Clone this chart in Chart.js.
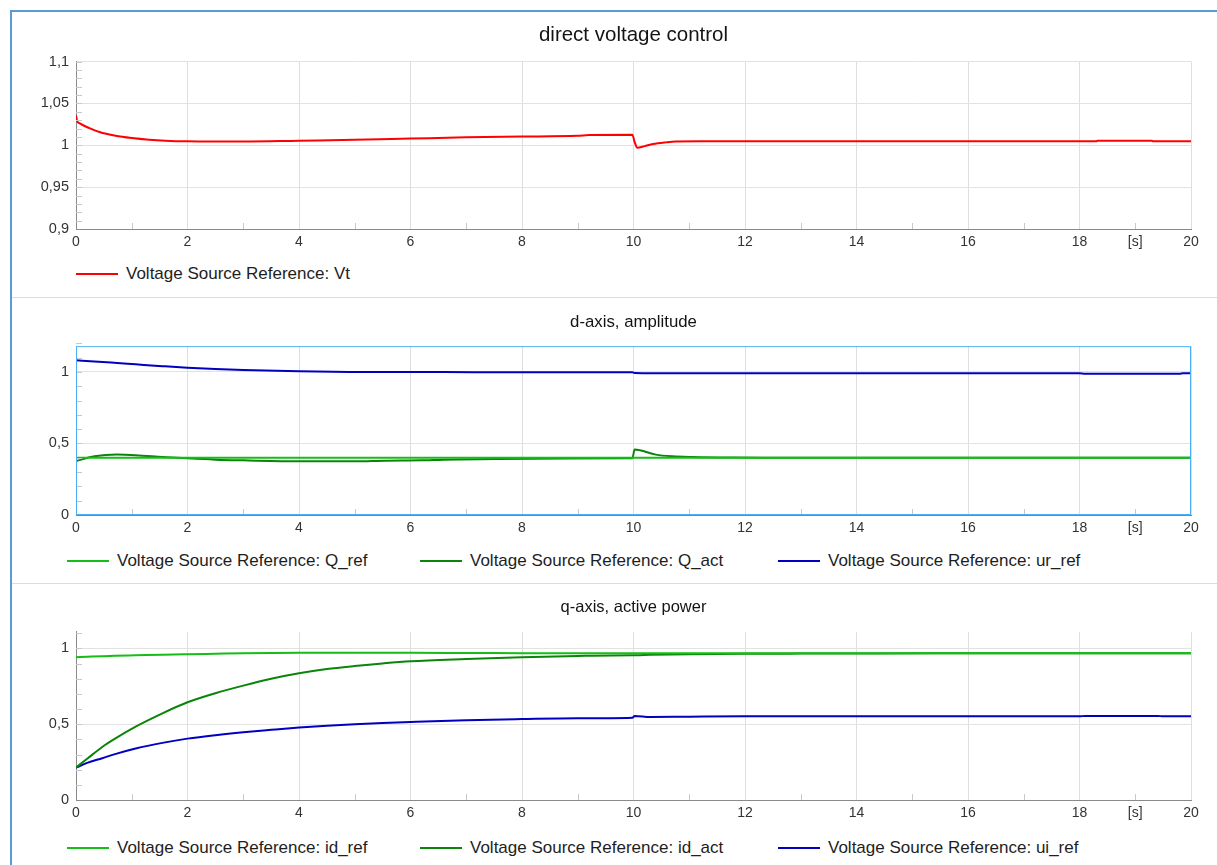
<!DOCTYPE html>
<html>
<head>
<meta charset="utf-8">
<title>direct voltage control</title>
<script src="https://cdn.jsdelivr.net/npm/chart.js@4.4.0/dist/chart.umd.min.js"></script>
<style>
  body { margin: 0; width: 1217px; height: 865px; background: #fff; position: relative; overflow: hidden;
         font-family: "Liberation Sans", Arial, sans-serif; }
  .frame { position: absolute; left: 10px; top: 10px; right: 0; bottom: 0;
           border-left: 2px solid #5b9bd5; border-top: 2px solid #5b9bd5; }
  .sep { position: absolute; left: 12px; right: 0; height: 1px; background: #dcdcdc; }
  .box { position: absolute; left: 12px; width: 1205px; }
  .legend { position: absolute; left: 0; width: 1217px; height: 20px; font-size: 17px; color: #1e1e1e; }
  .item { position: absolute; top: 0; height: 20px; display: flex; align-items: center; white-space: nowrap; }
  .item i { display: inline-block; width: 42px; height: 2px; margin-right: 8px; }
</style>
</head>
<body>
<div class="frame"></div>
<div class="sep" style="top:297px"></div>
<div class="sep" style="top:583px"></div>

<div class="box" style="top:12px;height:243px"><canvas id="c1"></canvas></div>
<div class="legend" id="l1" style="top:264px"></div>

<div class="box" style="top:298px;height:243px"><canvas id="c2"></canvas></div>
<div class="legend" id="l2" style="top:551px"></div>

<div class="box" style="top:584px;height:242px"><canvas id="c3"></canvas></div>
<div class="legend" id="l3" style="top:838px"></div>

<script>
// --- data (time in s) ---
const t1 = [0, 0.02, 0.06, 0.24, 0.42, 0.71, 1.0, 1.31, 1.6, 2.0, 2.5, 3.0, 4.0, 5.0, 6.0, 7.0, 8.0, 9.0, 9.2, 9.98, 10.02, 10.07, 10.2, 10.35, 10.58, 10.76, 11.2, 12, 14, 16, 18.3, 18.32, 19.3, 19.32, 20];
const vt = [1.036, 1.029, 1.0264, 1.0205, 1.0158, 1.0114, 1.0087, 1.0067, 1.0055, 1.0047, 1.0045, 1.0045, 1.0055, 1.0065, 1.008, 1.0095, 1.0105, 1.0113, 1.0124, 1.0125, 1.004, 0.997, 0.999, 1.0015, 1.0035, 1.0045, 1.0047, 1.0047, 1.0047, 1.0047, 1.0047, 1.0055, 1.0055, 1.0047, 1.0047];

const t2 = [0, 0.33, 0.74, 1.07, 1.55, 2, 2.5, 3, 4, 5, 5.55, 6.2, 6.6, 7.6, 8.8, 9.98, 10.02, 10.4, 10.7, 11.06, 11.8, 12.5, 14, 16, 18, 18.1, 19.8, 19.85, 20];
const qRef = [0.4, 0.4, 0.4, 0.4, 0.4, 0.4, 0.4, 0.4, 0.4, 0.4, 0.4, 0.4, 0.4, 0.4, 0.4, 0.4, 0.4, 0.4, 0.4, 0.4, 0.4, 0.4, 0.4, 0.4, 0.4, 0.4, 0.4, 0.4, 0.4];
const qAct = [0.377, 0.41, 0.422, 0.418, 0.406, 0.396, 0.387, 0.382, 0.375, 0.375, 0.38, 0.382, 0.387, 0.392, 0.394, 0.396, 0.458, 0.422, 0.41, 0.405, 0.401, 0.4, 0.4, 0.4, 0.4, 0.4, 0.4, 0.4, 0.4];
const urRef = [1.081, 1.073, 1.062, 1.053, 1.04, 1.029, 1.02, 1.013, 1.004, 1.0, 0.999, 0.999, 0.999, 0.998, 0.998, 0.998, 0.993, 0.991, 0.99, 0.99, 0.99, 0.99, 0.99, 0.99, 0.99, 0.987, 0.987, 0.99, 0.99];

const t3 = [0, 0.2, 0.47, 0.7, 1.07, 1.55, 2, 2.5, 3, 3.5, 4, 4.5, 5, 5.5, 6, 7, 8, 9, 9.98, 10.02, 10.3, 11, 12, 13, 14, 15.4, 16, 18, 18.1, 19.4, 19.5, 20];
const idRef = [0.942, 0.945, 0.949, 0.952, 0.955, 0.959, 0.962, 0.965, 0.968, 0.97, 0.971, 0.971, 0.971, 0.971, 0.971, 0.97, 0.969, 0.968, 0.968, 0.968, 0.968, 0.968, 0.968, 0.968, 0.968, 0.968, 0.968, 0.968, 0.968, 0.968, 0.968, 0.968];
const idAct = [0.214, 0.272, 0.35, 0.405, 0.484, 0.572, 0.645, 0.705, 0.755, 0.8, 0.836, 0.864, 0.884, 0.901, 0.915, 0.93, 0.942, 0.951, 0.956, 0.956, 0.958, 0.962, 0.965, 0.966, 0.967, 0.968, 0.968, 0.968, 0.968, 0.968, 0.968, 0.968];
const uiRef = [0.214, 0.245, 0.276, 0.303, 0.34, 0.377, 0.405, 0.428, 0.447, 0.463, 0.478, 0.49, 0.5, 0.508, 0.515, 0.527, 0.534, 0.539, 0.543, 0.555, 0.548, 0.55, 0.552, 0.552, 0.552, 0.552, 0.552, 0.552, 0.555, 0.555, 0.552, 0.552];

const xTicks = { min: 0, max: 20, unitTick: 19, unitLabel: '[s]' };

const RED = '#ff0000', LGREEN = '#14be14', DGREEN = '#0a850a', BLUE = '#0000c0';
const FONT = '"Liberation Sans", Arial, sans-serif';

// small ticks between the labelled ones, and a box round the plot if asked
const minorTicks = {
  id: 'minorTicks',
  afterDraw(chart, args, opts) {
    const { ctx, chartArea: a, scales: { x, y } } = chart;
    ctx.save();
    ctx.lineWidth = 1;
    ctx.strokeStyle = opts.color || '#c8c8c8';
    ctx.beginPath();
    for (let v = 1; v < xTicks.max; v += 2) {
      const px = Math.round(x.getPixelForValue(v)) + 0.5;
      ctx.moveTo(px, a.bottom);
      ctx.lineTo(px, a.bottom - 6);
    }
    const n = Math.round((y.max - y.min) / opts.yStep);
    for (let i = 1; i <= n; i++) {
      const py = Math.round(y.getPixelForValue(y.min + i * opts.yStep)) + 0.5;
      ctx.moveTo(a.left, py);
      ctx.lineTo(a.left + 6, py);
    }
    ctx.stroke();
    if (opts.box) {
      ctx.strokeStyle = opts.box;
      ctx.strokeRect(a.left + 0.5, a.top + 0.5, a.width - 1, a.height - 1);
    }
    ctx.restore();
  }
};

function fmt(v) {
  return String(Math.round(v * 1000) / 1000).replace('.', ',');
}

function line(label, data, color) {
  return {
    label: label, data: data, borderColor: color, backgroundColor: color,
    borderWidth: 2, pointRadius: 0, fill: false, cubicInterpolationMode: 'monotone'
  };
}

function makeChart(id, title, titleSize, titlePad, labels, datasets, y, axisColor, box) {
  return new Chart(document.getElementById(id), {
    type: 'line',
    data: { labels: labels, datasets: datasets },
    plugins: [minorTicks],
    options: {
      responsive: true,
      maintainAspectRatio: false,
      animation: false,
      layout: { padding: { left: 0, right: 26, top: 0, bottom: 0 } },
      plugins: {
        legend: { display: false },
        tooltip: { enabled: false },
        title: {
          display: true, text: title, color: '#141414', fullSize: false,  // centred over the plot
          font: { family: FONT, size: titleSize, weight: 'normal' },
          padding: titlePad
        },
        minorTicks: { yStep: y.minor, box: box }
      },
      scales: {
        x: {
          type: 'linear', min: xTicks.min, max: xTicks.max,
          afterFit(s) { s.height = 26; },
          border: { color: axisColor, width: 1 },
          grid: {
            drawTicks: false,
            color: c => (c.tick && c.tick.value % 2 === 0) ? '#dedede' : 'rgba(0,0,0,0)'
          },
          ticks: {
            stepSize: 1, autoSkip: false, maxRotation: 0, padding: 5,
            color: '#333', font: { family: FONT, size: 14 },
            callback: v => v === xTicks.unitTick ? xTicks.unitLabel : (v % 2 === 0 ? String(v) : '')
          }
        },
        y: {
          min: y.min, max: y.max,
          afterFit(s) { s.width = 64; },
          afterBuildTicks(s) {
            s.ticks = s.ticks.filter(t => Math.abs(t.value / y.step - Math.round(t.value / y.step)) < 1e-6);
          },
          border: { color: axisColor, width: 1 },
          grid: { drawTicks: false, color: '#e2e2e2' },
          ticks: {
            stepSize: y.step, padding: 7,
            color: '#333', font: { family: FONT, size: 14.5 },
            callback: v => fmt(v)
          }
        }
      }
    }
  });
}

function htmlLegend(chart, boxId, starts) {
  const el = document.getElementById(boxId);
  chart.data.datasets.forEach((ds, i) => {
    const item = document.createElement('div');
    item.className = 'item';
    item.style.left = starts[i] + 'px';
    const mark = document.createElement('i');
    mark.style.background = ds.borderColor;
    item.appendChild(mark);
    item.appendChild(document.createTextNode(ds.label));
    el.appendChild(item);
  });
}

const ch1 = makeChart('c1', 'direct voltage control', 20.5, { top: 11, bottom: 14 }, t1,
  [line('Voltage Source Reference: Vt', vt, RED)],
  { min: 0.9, max: 1.1, step: 0.05, minor: 0.01 }, '#8a8a8a', null);

const ch2 = makeChart('c2', 'd-axis, amplitude', 16.8, { top: 14, bottom: 14 }, t2,
  [line('Voltage Source Reference: Q_ref', qRef, LGREEN),
   line('Voltage Source Reference: Q_act', qAct, DGREEN),
   line('Voltage Source Reference: ur_ref', urRef, BLUE)],
  { min: 0, max: 1.18, step: 0.5, minor: 0.1 }, '#2f9cf0', '#4aaef5');

const ch3 = makeChart('c3', 'q-axis, active power', 16.5, { top: 14, bottom: 14 }, t3,
  [line('Voltage Source Reference: id_ref', idRef, LGREEN),
   line('Voltage Source Reference: id_act', idAct, DGREEN),
   line('Voltage Source Reference: ui_ref', uiRef, BLUE)],
  { min: 0, max: 1.11, step: 0.5, minor: 0.1 }, '#8a8a8a', null);

htmlLegend(ch1, 'l1', [76]);
htmlLegend(ch2, 'l2', [67, 420, 778]);
htmlLegend(ch3, 'l3', [67, 420, 778]);
</script>
</body>
</html>
